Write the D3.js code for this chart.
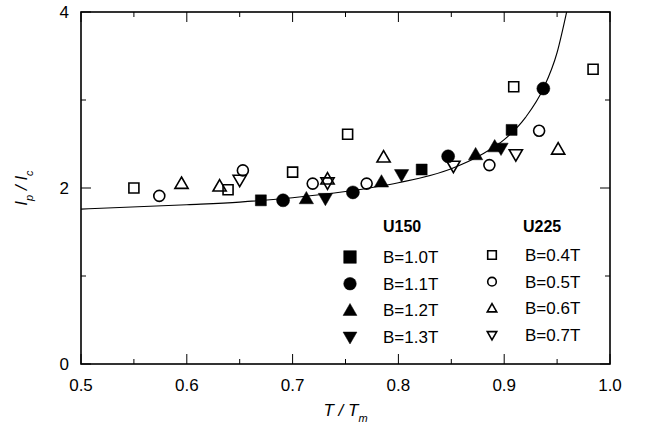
<!DOCTYPE html>
<html>
<head>
<meta charset="utf-8">
<script src="https://cdn.jsdelivr.net/npm/d3@7"></script>
<style>
  body { margin: 0; background: #fff; }
  svg { display: block; font-family: Arial, "Liberation Sans", Helvetica, sans-serif; }
</style>
</head>
<body>
<div id="chart"></div>
<script>
// x-axis ticks and y-axis ticks
const xTicks = [0.5, 0.6, 0.7, 0.8, 0.9, 1.0];
const yTicks = [0, 2, 4];

// U150 series (filled markers)
const b10 = [[0.670, 1.86], [0.822, 2.21], [0.907, 2.66]];
const b11 = [[0.691, 1.86], [0.757, 1.95], [0.847, 2.36], [0.937, 3.13]];
const b12 = [[0.713, 1.88], [0.784, 2.07], [0.873, 2.38], [0.891, 2.47]];
const b13 = [[0.731, 1.88], [0.803, 2.15], [0.897, 2.45]];

// U225 series (open markers)
const b04 = [[0.550, 2.00], [0.639, 1.98], [0.700, 2.18], [0.752, 2.61], [0.909, 3.15], [0.984, 3.35]];
const b05 = [[0.574, 1.91], [0.653, 2.20], [0.719, 2.05], [0.770, 2.05], [0.886, 2.26], [0.933, 2.65]];
const b06 = [[0.595, 2.05], [0.631, 2.02], [0.733, 2.10], [0.786, 2.35], [0.951, 2.44]];
const b07 = [[0.650, 2.09], [0.733, 2.06], [0.852, 2.25], [0.911, 2.38]];

// fitted curve
const curvePts = [[0.50, 1.76], [0.60, 1.81], [0.65, 1.84], [0.70, 1.89], [0.75, 1.96], [0.80, 2.06],
  [0.85, 2.22], [0.88, 2.39], [0.90, 2.55], [0.92, 2.80], [0.937, 3.13], [0.95, 3.54], [0.959, 4.0]];

const series = [
  {label: 'B=1.0T', data: b10, shape: 'square', filled: true},
  {label: 'B=1.1T', data: b11, shape: 'circle', filled: true},
  {label: 'B=1.2T', data: b12, shape: 'up', filled: true},
  {label: 'B=1.3T', data: b13, shape: 'down', filled: true},
  {label: 'B=0.4T', data: b04, shape: 'square', filled: false},
  {label: 'B=0.5T', data: b05, shape: 'circle', filled: false},
  {label: 'B=0.6T', data: b06, shape: 'up', filled: false},
  {label: 'B=0.7T', data: b07, shape: 'down', filled: false}
];

const W = 647, H = 439;
const margin = {left: 81, right: 37, top: 12, bottom: 75};
const iw = W - margin.left - margin.right;
const ih = H - margin.top - margin.bottom;

const svg = d3.select('#chart').append('svg').attr('width', W).attr('height', H);

const x = d3.scaleLinear().domain([0.5, 1.0]).range([margin.left, margin.left + iw]);
const y = d3.scaleLinear().domain([0, 4]).range([margin.top + ih, margin.top]);

// marker path, r = half size
function markerPath(shape, r) {
  const p = d3.path();
  if (shape === 'square') {
    p.rect(-r, -r, 2 * r, 2 * r);
  } else if (shape === 'circle') {
    p.arc(0, 0, r, 0, 2 * Math.PI);
  } else if (shape === 'up') {
    p.moveTo(0, -r * 1.1); p.lineTo(r * 1.1, r * 0.8); p.lineTo(-r * 1.1, r * 0.8); p.closePath();
  } else {
    p.moveTo(0, r * 1.1); p.lineTo(r * 1.1, -r * 0.8); p.lineTo(-r * 1.1, -r * 0.8); p.closePath();
  }
  return p.toString();
}
function markerSize(s) {
  if (s.filled) return s.shape === 'square' ? 5.5 : 6.5;
  return s.shape === 'square' ? 5 : (s.shape === 'circle' ? 5.5 : 6);
}

// curve (clipped to plot area)
svg.append('clipPath').attr('id', 'clip').append('rect')
  .attr('x', margin.left).attr('y', margin.top).attr('width', iw).attr('height', ih);

const line = d3.line().x(d => x(d[0])).y(d => y(d[1])).curve(d3.curveMonotoneX);
svg.append('path').datum(curvePts)
  .attr('clip-path', 'url(#clip)')
  .attr('d', line)
  .attr('fill', 'none').attr('stroke', '#000').attr('stroke-width', 1.1);

// ticks (inward, top/bottom and left/right)
const xMinor = d3.range(0.55, 1.0, 0.1);
const yMinor = [1, 3];
const g = svg.append('g').attr('stroke', '#000').attr('stroke-width', 1);
xTicks.concat(xMinor).forEach(t => {
  const len = xTicks.some(v => Math.abs(v - t) < 1e-6) ? 10 : 5;
  g.append('line').attr('x1', x(t)).attr('x2', x(t)).attr('y1', y(0)).attr('y2', y(0) - len);
  g.append('line').attr('x1', x(t)).attr('x2', x(t)).attr('y1', y(4)).attr('y2', y(4) + len);
});
yTicks.concat(yMinor).forEach(t => {
  const len = yTicks.includes(t) ? 10 : 5;
  g.append('line').attr('y1', y(t)).attr('y2', y(t)).attr('x1', x(0.5)).attr('x2', x(0.5) + len);
  g.append('line').attr('y1', y(t)).attr('y2', y(t)).attr('x1', x(1.0)).attr('x2', x(1.0) - len);
});

// frame
svg.append('rect')
  .attr('x', margin.left).attr('y', margin.top).attr('width', iw).attr('height', ih)
  .attr('fill', 'none').attr('stroke', '#000').attr('stroke-width', 1.6);

// tick labels
svg.append('g').selectAll('text').data(xTicks).join('text')
  .attr('x', d => x(d)).attr('y', y(0) + 27)
  .attr('text-anchor', 'middle').attr('font-size', 17)
  .text(d => d3.format('.1f')(d));
svg.append('g').selectAll('text').data(yTicks).join('text')
  .attr('x', margin.left - 12).attr('y', d => y(d) + 6)
  .attr('text-anchor', 'end').attr('font-size', 17)
  .text(d => d);

// axis titles
const xt = svg.append('text').attr('x', margin.left + iw / 2).attr('y', 416)
  .attr('text-anchor', 'middle').attr('font-size', 17).attr('font-style', 'italic');
xt.append('tspan').text('T / T');
xt.append('tspan').attr('baseline-shift', 'sub').attr('font-size', 11).text('m');

const yt = svg.append('text')
  .attr('transform', `translate(27,${margin.top + ih / 2}) rotate(-90)`)
  .attr('text-anchor', 'middle').attr('font-size', 17).attr('font-style', 'italic');
yt.append('tspan').text('I');
yt.append('tspan').attr('baseline-shift', 'sub').attr('font-size', 11).text('p');
yt.append('tspan').text(' / I');
yt.append('tspan').attr('baseline-shift', 'sub').attr('font-size', 11).text('c');

// data markers
series.forEach(s => {
  svg.append('g').selectAll('path').data(s.data).join('path')
    .attr('transform', d => `translate(${x(d[0])},${y(d[1])})`)
    .attr('d', markerPath(s.shape, markerSize(s)))
    .attr('fill', s.filled ? '#000' : '#fff')
    .attr('fill-opacity', s.filled ? 1 : 0)
    .attr('stroke', '#000')
    .attr('stroke-width', s.filled ? 0.5 : 1.6);
});

// legend
const leg = svg.append('g');
leg.append('text').attr('x', 383).attr('y', 232).attr('font-size', 16).attr('font-weight', 'bold').text('U150');
leg.append('text').attr('x', 523).attr('y', 232).attr('font-size', 16).attr('font-weight', 'bold').text('U225');
series.forEach((s, i) => {
  const col = s.filled ? 0 : 1;
  const row = i % 4;
  const mx = col ? 492 : 350;
  const my = (col ? 255 : 257) + row * 26.7;
  leg.append('path')
    .attr('transform', `translate(${mx},${my})`)
    .attr('d', markerPath(s.shape, s.filled ? 6.3 : 4.3))
    .attr('fill', s.filled ? '#000' : 'none')
    .attr('stroke', '#000').attr('stroke-width', s.filled ? 0.5 : 1.6);
  leg.append('text').attr('x', col ? 525 : 383).attr('y', my + 6)
    .attr('font-size', 17).text(s.label);
});
</script>
</body>
</html>
